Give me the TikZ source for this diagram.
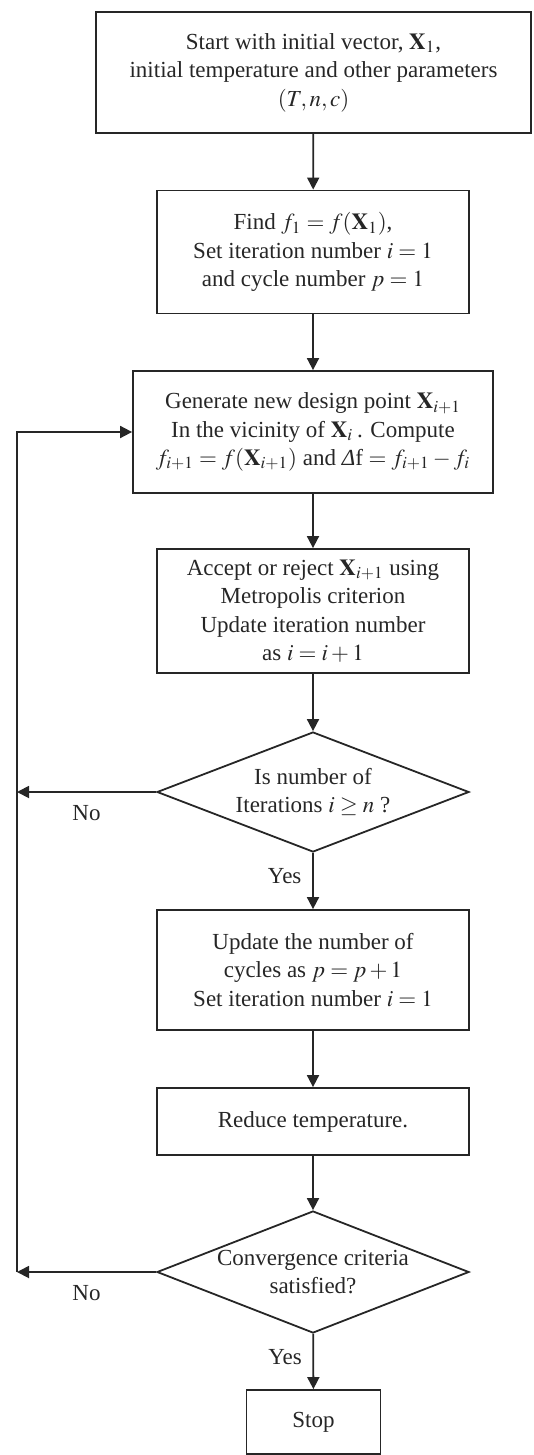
\documentclass[tikz,border=0pt]{standalone}
\usepackage{mathptmx}
\usepackage{fontspec}
\setmainfont{Liberation Serif}
\usetikzlibrary{arrows.meta,shapes.geometric}

\begin{document}
\begin{tikzpicture}[x=0.5pt,y=-0.5pt,
  ink/.style={draw=black!85,line width=0.9pt},
  procbox/.style={ink,rectangle,align=center,inner sep=0pt,
    font=\fontsize{11.5}{14.2}\selectfont,text=black!85},
  decision/.style={ink,diamond,aspect=2.6,align=center,inner sep=0pt,
    font=\fontsize{11.5}{14.2}\selectfont,text=black!85},
  flow/.style={ink,-{Triangle[length=6pt,width=6pt]}},
  tag/.style={font=\fontsize{11.5}{12}\selectfont,text=black!85}]

\useasboundingbox (0,0) rectangle (534,1455);

% process steps, top to bottom
\node[procbox,minimum width=217.5pt,minimum height=60.5pt] (init) at (313.5,72.5)
  {Start with initial vector, $\mathbf{X}_1$,\\
   initial temperature and other parameters\\
   $(T, n, c)$};
\node[procbox,minimum width=156pt,minimum height=61.5pt] (first) at (313,252)
  {Find $f_1 = f(\mathbf{X}_1)$,\\
   Set iteration number $i = 1$\\
   and cycle number $p = 1$};
\node[procbox,minimum width=180pt,minimum height=61pt] (gen) at (313,432)
  {Generate new design point $\mathbf{X}_{i+1}$\\
   In the vicinity of $\mathbf{X}_i$\,. Compute\\
   $f_{i+1} = f(\mathbf{X}_{i+1})$ and {\itshape Δ}f $= f_{i+1} - f_i$};
\node[procbox,minimum width=156pt,minimum height=62pt] (accept) at (313,611)
  {Accept or reject $\mathbf{X}_{i+1}$ using\\
   Metropolis criterion\\
   Update iteration number\\
   as $i = i + 1$};
\node[decision,minimum width=156pt,minimum height=60pt] (iter) at (313,792)
  {Is number of\\ Iterations $i \geq n$ ?};
\node[procbox,minimum width=156pt,minimum height=60pt] (cycle) at (313,970)
  {Update the number of\\
   cycles as $p = p + 1$\\
   Set iteration number $i = 1$};
\node[procbox,minimum width=156pt,minimum height=33.5pt] (cool) at (313,1121.5)
  {Reduce temperature.};
\node[decision,minimum width=156pt,minimum height=61pt] (conv) at (313,1272)
  {Convergence criteria\\ satisfied?};
\node[procbox,minimum width=67pt,minimum height=32pt] (stop) at (313.5,1422)
  {Stop};

% main sequence
\draw[flow] (init) -- (first);
\draw[flow] (first) -- (gen);
\draw[flow] (gen) -- (accept);
\draw[flow] (accept) -- (iter);
\draw[flow] (iter) -- node[tag,left=2pt,pos=0.42] (yes1) {Yes} (cycle);
\draw[flow] (cycle) -- (cool);
\draw[flow] (cool) -- (conv);
\draw[flow] (conv) -- node[tag,left=2pt,pos=0.42] (yes2) {Yes} (stop);

% return path along the left margin
\coordinate (back1) at (17,792);
\coordinate (back2) at (17,1272);
\draw[flow] (iter.west) -- node[tag,below=3pt] (no1) {No} (back1);
\draw[flow] (conv.west) -- node[tag,below=3pt] (no2) {No} (back2);
\draw[flow] (back2) |- (gen.west);

\end{tikzpicture}
\end{document}
